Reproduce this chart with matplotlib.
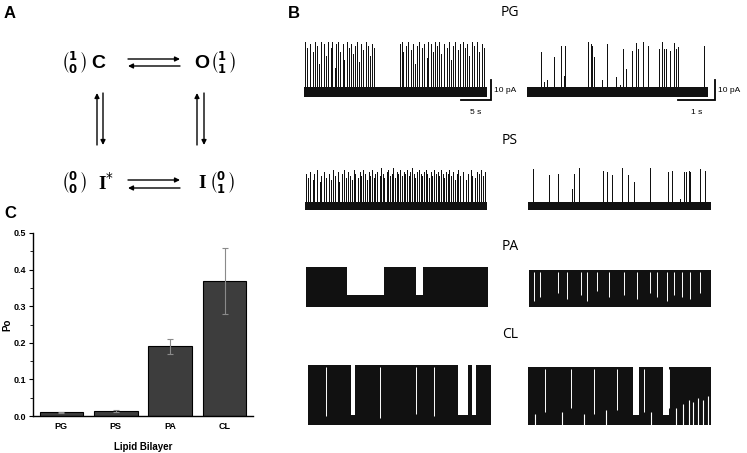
import matplotlib
matplotlib.use('Agg')
import matplotlib.pyplot as plt
from matplotlib.ticker import MultipleLocator

W, H = 747, 453

# panel C: open probability per lipid bilayer
lipids = ['PG', 'PS', 'PA', 'CL']
po_mean = [0.010, 0.013, 0.190, 0.370]
po_err = [0.001, 0.003, 0.020, 0.090]

# panel B: single channel recordings, times in s, amplitudes in pA
# PG, 30 s trace: opening times and amplitudes
pg_long_t = [0.2, 0.55, 1.0, 1.4, 1.75, 2.2, 2.5, 2.85, 3.2, 3.6, 4.0, 4.35, 4.65, 5.0,
             5.25, 5.6, 5.9, 6.35, 6.6, 7.0, 7.4, 7.65, 8.0, 8.35, 8.65, 9.0, 9.35, 9.7,
             10.1, 10.45, 10.8, 11.1, 11.45, 15.7, 16.0, 16.3, 16.7, 17.1, 17.5, 17.9,
             18.2, 18.6, 18.9, 19.3, 19.7, 20.1, 20.4, 20.8, 21.2, 21.5, 21.8, 22.2, 22.5,
             22.9, 23.4, 23.8, 24.1, 24.5, 24.8, 25.2, 25.6, 26.0, 26.4, 26.8, 27.1, 27.5,
             27.8, 28.3, 28.7, 29.1, 29.5]
pg_long_amp = [25, 22, 24, 20, 25, 23, 14, 25, 24, 18, 25, 22, 25, 12,
               24, 25, 20, 24, 16, 25, 22, 24, 19, 23, 25, 15, 24, 21,
               25, 23, 18, 24, 22, 24, 25, 20, 23, 25, 21, 24,
               14, 23, 25, 22, 24, 17, 25, 24, 20, 25, 23, 25, 19,
               24, 22, 25, 16, 23, 25, 21, 24, 25, 22, 24, 18, 25,
               23, 25, 20, 24, 22]
# PG, 4.9 s trace
pg_short_t = [0.38, 0.45, 0.53, 0.74, 0.92, 0.99, 1.03, 1.66, 1.72, 1.75, 1.81, 2.02,
              2.17, 2.41, 2.53, 2.60, 2.69, 2.85, 2.94, 3.01, 3.14, 3.27, 3.57, 3.66,
              3.72, 3.77, 3.88, 3.99, 4.03, 4.10, 4.78]
pg_short_amp = [20.1, 4.9, 6.1, 17.6, 23.0, 8.2, 23.0, 25.0, 23.8, 23.0, 17.3, 6.1,
                23.8, 7.4, 3.6, 21.4, 11.5, 20.6, 24.7, 21.4, 25.0, 23.0, 21.4, 25.0,
                21.4, 21.4, 20.6, 24.3, 21.4, 22.5, 23.0]

# PS, 30 s trace
ps_long_t = [0.15, 0.5, 0.8, 1.3, 1.55, 2.0, 2.45, 2.7, 3.2, 3.45, 3.9, 4.3, 4.55, 5.0,
             5.4, 5.65, 6.1, 6.35, 6.8, 7.05, 7.35, 7.7, 8.1, 8.3, 8.7, 9.0, 9.3, 9.55,
             9.9, 10.2, 10.5, 10.75, 11.05, 11.4, 11.6, 11.95, 12.3, 12.5, 12.85, 13.1,
             13.45, 13.7, 14.0, 14.3, 14.55, 14.85, 15.1, 15.4, 15.7, 15.95, 16.25, 16.5,
             16.8, 17.1, 17.35, 17.65, 17.9, 18.2, 18.5, 18.75, 19.05, 19.3, 19.6, 19.9,
             20.15, 20.45, 20.7, 21.0, 21.3, 21.55, 21.85, 22.1, 22.4, 22.7, 22.95, 23.25,
             23.55, 23.8, 24.1, 24.4, 24.65, 25.0, 25.3, 25.6, 26.0, 26.5, 26.8, 27.3,
             27.6, 28.0, 28.3, 28.6, 29.0, 29.3, 29.7]
ps_long_amp = [16, 14, 17, 13, 16, 18, 12, 15, 17, 14, 16, 13, 18, 15,
               17, 12, 16, 18, 14, 17, 15, 13, 18, 16, 14, 17, 15, 18,
               16, 13, 17, 15, 18, 14, 16, 17, 15, 19, 16, 14,
               17, 18, 15, 16, 19, 14, 17, 16, 18, 15, 17, 16,
               18, 15, 17, 19, 16, 14, 17, 18, 16, 15, 17, 18,
               16, 14, 17, 15, 18, 16, 17, 15, 18, 16, 14, 17,
               16, 18, 15, 17, 13, 16, 18, 15, 17, 13, 16, 18,
               15, 14, 17, 16, 18, 15, 17]
# PS, 4.9 s trace
ps_short_t = [0.13, 0.56, 0.81, 1.19, 1.23, 1.37, 2.02, 2.11, 2.26, 2.51, 2.69, 2.84,
              3.27, 3.74, 3.85, 4.08, 4.17, 4.24, 4.30, 4.35, 4.60, 4.75]
ps_short_amp = [18.6, 15.5, 16.2, 8.4, 15.8, 19.0, 17.7, 16.8, 15.5, 19.0, 15.5, 12.1,
                19.0, 16.8, 17.7, 3.7, 16.8, 17.1, 17.3, 16.8, 18.6, 17.7]

# PA and CL: bursts of fast flicker, given as open periods (start, end) in s
pa_long_open = [(0.0, 6.75), (12.85, 18.2), (19.3, 30.0)]
pa_short_open = [(0.0, 4.9)]
pa_short_gaps_t = [0.125, 0.303, 0.768, 1.036, 1.393, 1.553, 1.839, 2.151, 2.553, 2.910,
                   3.267, 3.446, 3.714, 3.892, 4.115, 4.338, 4.606]
pa_short_gaps_lo = [0, 2, 4, 1, 3, 0, 5, 2, 3, 1, 4, 2, 0, 3, 2, 1, 4]

cl_long_open = [(0.0, 7.05), (7.7, 24.6), (26.2, 26.9), (27.5, 30.0)]
cl_long_gaps_t = [2.95, 11.8, 17.7, 20.66]
cl_long_gaps_lo = [2, 1, 3, 2]
cl_short_open = [(0.0, 2.80), (2.96, 3.61), (3.77, 4.9)]
cl_short_gaps_t = [0.455, 1.143, 1.767, 2.374, 3.106, 3.784]
cl_short_gaps_lo = [4, 6, 3, 5, 4, 6]
# times where the lower part of the CL 4.9 s trace is empty
cl_short_low_t = [0.2, 0.9, 1.5, 2.1, 3.3, 3.95, 4.15, 4.3, 4.42, 4.55, 4.68, 4.82]
cl_short_low_hi = [3, 4, 3, 5, 4, 6, 8, 10, 9, 11, 10, 12]

DARK = '#111111'


def px_axes(fig, x0, x1, y0, y1):
    # axes from a pixel box (y measured from the top)
    return fig.add_axes([x0 / W, 1 - y1 / H, (x1 - x0) / W, (y1 - y0) / H])


def trace_axes(fig, x0, x1, ybase, dur):
    ax = px_axes(fig, x0, x1, ybase - 62, ybase + 10)
    ax.set_xlim(0, dur)
    ax.set_ylim(-5, 31)
    ax.axis('off')
    return ax


def draw_trace(ax, dur, band, spikes=None, opens=None, amp=None, gaps=None, low=None, lw=0.5):
    ax.fill_between([0, dur], -band, band, color=DARK, lw=0)
    if spikes is not None:
        ax.vlines(spikes[0], 0, spikes[1], color=DARK, lw=lw, antialiased=False)
    if opens is not None:
        for a, b in opens:
            ax.fill_between([a, b], -band, amp, color=DARK, lw=0)
    if gaps is not None:
        ax.vlines(gaps[0], gaps[1], amp - 1, color='white', lw=0.7)
    if low is not None:
        ax.vlines(low[0], -band - 0.5, low[1], color='white', lw=0.8)


def scale_bar(ax, x_end, t_len, t_label):
    ax.plot([x_end - t_len, x_end, x_end], [-4, -4, 6], color='black', lw=1.3,
            clip_on=False, solid_joinstyle='miter')
    ax.text(x_end + t_len * 0.09, 1, '10 pA', fontsize=6,
            family='Liberation Sans', va='center', ha='left')
    ax.text(x_end - t_len / 2, -10, t_label, fontsize=6, family='Liberation Sans',
            va='center', ha='center')


fig = plt.figure(figsize=(W / 100, H / 100), dpi=100)

# overlay in pixel coordinates for labels and the kinetic scheme
ov = fig.add_axes([0, 0, 1, 1])
ov.set_xlim(0, W)
ov.set_ylim(H, 0)
ov.axis('off')

for s, x, y in [('A', 10, 13), ('B', 294, 13), ('C', 10, 213)]:
    ov.text(x, y, s, fontsize=12, weight='bold', family='Liberation Sans',
            ha='center', va='center')

# panel A scheme
vec_kw = dict(fontsize=12, ha='center', va='center')
ov.text(74, 63, r'$\binom{\mathbf{1}}{\mathbf{0}}$', **vec_kw)
ov.text(223, 63, r'$\binom{\mathbf{1}}{\mathbf{1}}$', **vec_kw)
ov.text(74, 183, r'$\binom{\mathbf{0}}{\mathbf{0}}$', **vec_kw)
ov.text(222, 183, r'$\binom{\mathbf{0}}{\mathbf{1}}$', **vec_kw)
ov.text(98, 63, 'C', fontsize=14, weight='bold', family='Liberation Sans', ha='center', va='center')
ov.text(202, 63, 'O', fontsize=14, weight='bold', family='Liberation Sans', ha='center', va='center')
ov.text(106, 183, r'I$^{*}$', fontsize=14, weight='bold', family='Liberation Serif',
        ha='center', va='center')
ov.text(202, 183, 'I', fontsize=14, weight='bold', family='Liberation Serif', ha='center', va='center')

arrow_kw = dict(arrowstyle='-|>', color='black', lw=1.0, mutation_scale=7, shrinkA=0, shrinkB=0)
for (x0, y0), (x1, y1) in [((128, 59), (180, 59)), ((180, 66), (128, 66)),
                           ((128, 180), (180, 180)), ((180, 188), (128, 188)),
                           ((97, 145), (97, 93)), ((103, 93), (103, 145)),
                           ((197, 145), (197, 93)), ((204, 93), (204, 145))]:
    ov.annotate('', xy=(x1, y1), xytext=(x0, y0), arrowprops=arrow_kw)

# panel B titles
for s, y in [('PG', 13), ('PS', 140), ('PA', 246), ('CL', 335)]:
    ov.text(510, y, s, fontsize=10, family='Open Sans', ha='center', va='center')

LONG, SHORT = 30.0, 4.9

ax = trace_axes(fig, 304, 487, 92, LONG)
draw_trace(ax, LONG, 2.5, spikes=(pg_long_t, pg_long_amp), lw=0.7)
scale_bar(ax, LONG + 0.66, 5, '5 s')
ax = trace_axes(fig, 527, 708, 92, SHORT)
draw_trace(ax, SHORT, 2.5, spikes=(pg_short_t, pg_short_amp))
scale_bar(ax, SHORT + 0.19, 1, '1 s')

ax = trace_axes(fig, 305, 487, 206, LONG)
draw_trace(ax, LONG, 2.0, spikes=(ps_long_t, ps_long_amp), lw=0.7)
ax = trace_axes(fig, 528, 711, 206, SHORT)
draw_trace(ax, SHORT, 2.0, spikes=(ps_short_t, ps_short_amp))

ax = trace_axes(fig, 306, 488, 301, LONG)
draw_trace(ax, LONG, 3.2, opens=pa_long_open, amp=17)
ax = trace_axes(fig, 529, 711, 301, SHORT)
draw_trace(ax, SHORT, 3.2, opens=pa_short_open, amp=15.5,
           gaps=(pa_short_gaps_t, pa_short_gaps_lo))

ax = trace_axes(fig, 308, 491, 420, LONG)
draw_trace(ax, LONG, 2.5, opens=cl_long_open, amp=27.5,
           gaps=(cl_long_gaps_t, cl_long_gaps_lo))
ax = trace_axes(fig, 528, 711, 420, SHORT)
draw_trace(ax, SHORT, 2.5, opens=cl_short_open, amp=26.5,
           gaps=(cl_short_gaps_t, cl_short_gaps_lo),
           low=(cl_short_low_t, cl_short_low_hi))

# panel C bar chart
axc = px_axes(fig, 33, 253, 233, 416)
x = range(len(lipids))
axc.bar(x, po_mean, width=0.8, color='#3d3d3d', edgecolor='black', lw=0.8, zorder=2)
axc.errorbar(x, po_mean, yerr=po_err, fmt='none', ecolor='#8a8a8a', elinewidth=0.8,
             capsize=2, capthick=0.8, zorder=3)
axc.set_xlim(-0.52, 3.52)
axc.set_ylim(0, 0.5)
axc.yaxis.set_major_locator(MultipleLocator(0.1))
axc.yaxis.set_minor_locator(MultipleLocator(0.05))
axc.set_xticks(list(x))
axc.set_xticklabels(lipids)
for sp in ['top', 'right']:
    axc.spines[sp].set_visible(False)
for sp in ['left', 'bottom']:
    axc.spines[sp].set_linewidth(1.0)
axc.tick_params(axis='both', labelsize=6.5, length=3, width=0.8, pad=2)
axc.tick_params(axis='y', which='minor', length=2, width=0.6)
axc.tick_params(axis='x', length=0, pad=4)
for lab in axc.get_xticklabels() + axc.get_yticklabels():
    lab.set_fontweight('bold')
    lab.set_family('Liberation Sans')
axc.set_ylabel('Po', fontsize=7, weight='bold', family='Liberation Sans', labelpad=1)
axc.set_xlabel('Lipid Bilayer', fontsize=7, weight='bold', family='Liberation Sans', labelpad=8)

fig.savefig('out.png', dpi=100)
